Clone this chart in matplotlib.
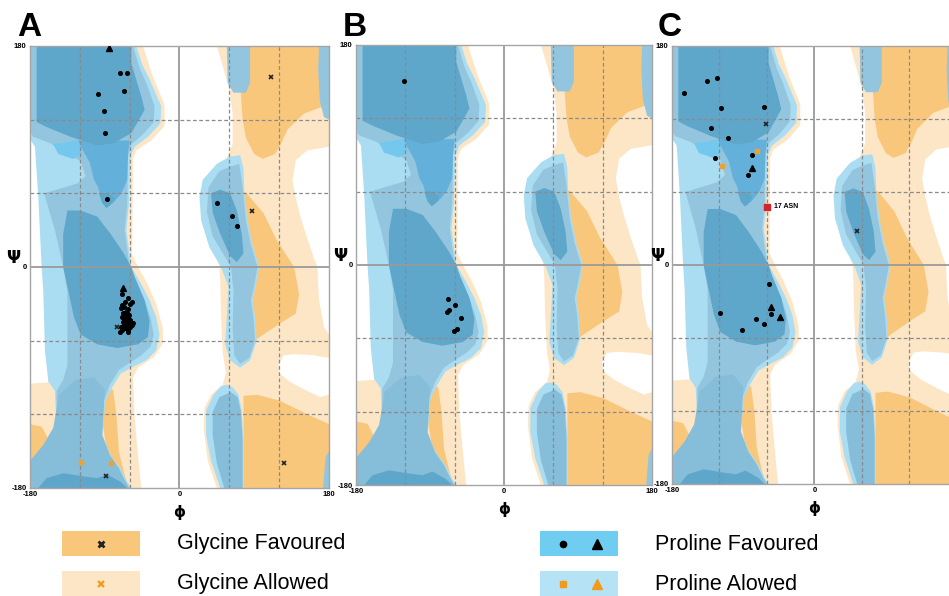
import matplotlib
matplotlib.use("Agg")
import matplotlib.pyplot as plt

plt.rcParams['font.family'] = ['Liberation Sans', 'DejaVu Sans']
plt.rcParams['axes.unicode_minus'] = False

# colours of the Ramachandran regions
LIGHT_OR = '#fde6c6'
ORANGE = '#f9c77c'
CYAN = '#aadcf2'
MED = '#93c6de'
MID = '#86bdd8'
BRIGHT = '#63b1da'
BRCYAN = '#74c8ee'
DARK = '#5ea6ca'
WHITE = '#ffffff'

# region outlines, (phi, psi) in degrees
left_light_orange = [(-180, 180), (-44, 180), (-32, 155), (-18, 132), (-18, 115), (-34, 103), (-52, 95),
                     (-56, 88), (-57, 10), (-50, 0), (-40, -12), (-28, -30), (-20, -50), (-20, -62),
                     (-30, -73), (-50, -82), (-56, -90), (-54, -123), (-50, -153), (-46, -180),
                     (-180, -180), (-180, -95), (-158, -94), (-140, 0), (-140, 100), (-180, 104)]
left_orange_strip = [(-92, -98), (-80, -100), (-76, -120), (-73, -150), (-66, -170), (-62, -178),
                     (-70, -178), (-85, -160), (-92, -130)]
left_orange_corner = [(-180, -128), (-166, -130), (-158, -140), (-166, -150), (-180, -160)]

right_light_orange = [(45, 180), (180, 180), (180, -180), (45, -180), (34, -158), (29, -131), (30, -115),
                      (38, -104), (52, -96), (56, -86), (52, -70), (50, -40), (49, -10), (48, 0),
                      (40, 20), (40, 60), (55, 85), (64, 100), (64, 125), (60, 145), (52, 164)]
white_hole_high = [(180, 98), (154, 95), (140, 87), (136, 71), (140, 56), (146, 40), (154, 23),
                   (162, 7), (166, 0), (168, -27), (174, -49), (180, -55)]
white_hole_low = [(180, -74), (162, -72), (138, -71), (125, -72), (119, -80), (121, -87), (134, -94),
                  (154, -101), (170, -106), (180, -104)]
right_orange_top = [(70, 180), (180, 180), (180, 131), (170, 130), (150, 125), (130, 112), (122, 100),
                    (115, 92), (100, 88), (90, 92), (80, 105), (76, 120), (74, 140), (72, 160)]
right_orange_mid = [(76, 62), (81, 60), (101, 44), (117, 22), (138, 0), (144, -22), (140, -38),
                    (121, -46), (101, -55), (86, -62), (82, -40), (80, 0), (78, 30)]
right_orange_bot = [(77, -105), (93, -104), (121, -109), (154, -120), (180, -128), (180, -180), (77, -180)]

left_envelope = [(-180, 180), (-52, 180), (-45, 165), (-36, 153), (-22, 131), (-23, 117), (-38, 106),
                 (-54, 98), (-59, 90), (-61, 50), (-64, 30), (-60, 10), (-58, 0), (-46, -14), (-36, -27),
                 (-28, -41), (-24, -55), (-28, -68), (-40, -76), (-58, -82), (-71, -87), (-81, -98),
                 (-89, -109), (-93, -137), (-83, -153), (-71, -164), (-63, -175), (-58, -180),
                 (-180, -180), (-180, -158), (-162, -145), (-148, -131), (-150, -101), (-158, -93),
                 (-162, -68), (-164, -20), (-166, 0), (-170, 57), (-174, 98), (-180, 104)]
left_medium = [(-180, 180), (-56, 180), (-48, 162), (-40, 150), (-30, 131), (-31, 118), (-44, 108),
               (-58, 100), (-62, 90), (-63, 50), (-66, 30), (-62, 10), (-60, 0), (-52, -14), (-42, -27),
               (-35, -41), (-31, -55), (-35, -65), (-46, -72), (-60, -78), (-73, -84), (-84, -96),
               (-91, -109), (-94, -137), (-85, -153), (-73, -164), (-65, -175), (-60, -180),
               (-180, -180), (-180, -158), (-162, -145), (-148, -131), (-148, -101), (-140, -92),
               (-135, -80), (-135, -20), (-140, 0), (-150, 30), (-163, 60), (-123, 68), (-113, 74),
               (-119, 86), (-156, 101), (-176, 106), (-180, 110)]
left_mid_low = [(-180, -180), (-180, -158), (-164, -145), (-152, -131), (-145, -104), (-125, -92),
                (-103, -90), (-90, -100), (-93, -137), (-84, -153), (-73, -164), (-65, -175), (-61, -180)]
left_bright_stem = [(-122, 103), (-60, 103), (-62, 92), (-63, 71), (-70, 60), (-80, 52), (-87, 49),
                    (-93, 53), (-98, 65), (-103, 71), (-108, 85), (-118, 97)]
left_stem_tip = [(-78, 56), (-84, 50), (-88, 48), (-93, 52), (-97, 60), (-86, 60)]
left_bright_cyan = [(-152, 100), (-122, 103), (-117, 93), (-128, 88), (-146, 92)]
left_dark_top = [(-172, 180), (-58, 180), (-58, 166), (-46, 139), (-42, 128), (-58, 109), (-79, 101),
                 (-99, 99), (-131, 106), (-160, 114), (-172, 118)]
left_dark_helix = [(-135, 46), (-119, 46), (-99, 41), (-83, 27), (-67, 11), (-58, 0), (-54, -8),
                   (-42, -27), (-36, -44), (-38, -57), (-50, -63), (-75, -66), (-99, -63), (-119, -55),
                   (-127, -41), (-135, -16), (-140, 0), (-140, 27), (-137, 38)]
left_dark_bottom = [(-170, -180), (-160, -172), (-140, -168), (-111, -171), (-99, -172), (-87, -169),
                    (-71, -175), (-63, -180)]

right_blob_outer = [(61, 90), (73, 91), (77, 80), (78, 60), (82, 38), (88, 18), (96, 0), (92, -15),
                    (88, -27), (91, -41), (93, -60), (85, -76), (73, -82), (61, -76), (55, -63),
                    (57, -41), (59, -16), (50, 0), (36, 16), (26, 38), (24, 57), (28, 71), (45, 84)]
right_blob_medium = [(62, 82), (72, 84), (76, 65), (80, 38), (86, 18), (94, 0), (90, -15), (86, -27),
                     (89, -41), (91, -60), (84, -74), (73, -79), (66, -72), (64, -50), (65, -20),
                     (62, 0), (55, 8), (40, 25), (33, 45), (35, 65), (48, 78)]
right_blob_dark = [(38, 60), (49, 63), (61, 60), (69, 46), (75, 27), (77, 11), (69, 4), (61, 9),
                   (49, 27), (40, 44)]
right_low_outer = [(57, -96), (64, -98), (71, -104), (75, -117), (77, -142), (77, -180), (49, -180),
                   (38, -158), (32, -137), (32, -117), (41, -104), (50, -97)]
right_low_medium = [(62, -102), (70, -106), (74, -118), (76, -142), (76, -180), (54, -180), (45, -160),
                    (40, -137), (40, -118), (48, -106)]
top_strip = [(57, 180), (85, 180), (85, 150), (80, 142), (65, 142), (58, 150)]
edge_strip_top = [(168, 180), (180, 180), (180, 120), (174, 122), (169, 135), (167, 160)]
edge_strip_bot = [(180, -150), (176, -155), (174, -170), (173, -180), (180, -180)]

layers = [
    (LIGHT_OR, left_light_orange), (ORANGE, left_orange_strip), (ORANGE, left_orange_corner),
    (LIGHT_OR, right_light_orange), (WHITE, white_hole_high), (WHITE, white_hole_low),
    (ORANGE, right_orange_top), (ORANGE, right_orange_mid), (ORANGE, right_orange_bot),
    (CYAN, left_envelope), (MED, left_medium), (MID, left_mid_low), (BRCYAN, left_bright_cyan),
    (BRIGHT, left_bright_stem), (DARK, left_stem_tip), (DARK, left_dark_top), (DARK, left_dark_helix),
    (DARK, left_dark_bottom),
    (CYAN, right_blob_outer), (MED, right_blob_medium), (DARK, right_blob_dark),
    (CYAN, right_low_outer), (MID, right_low_medium), (MED, top_strip),
    (MED, edge_strip_top), (MED, edge_strip_bot),
]

# residues, panel A
a_dots = [(-71.6, 157.8), (-62.8, 157.8), (-97.8, 141.2), (-66.8, 143.3), (-91.3, 126.8), (-89.3, 109.1),
          (-86.9, 55.6), (45.5, 52.4), (62.8, 41.5), (68.8, 33.1),
          (-68.8, -22.0), (-61.6, -25.5), (-57.6, -28.2), (-65.6, -28.2), (-69.6, -31.0), (-59.6, -30.1),
          (-70.4, -33.7), (-66.4, -32.9), (-62.4, -34.5), (-64.8, -36.4), (-67.6, -37.8), (-63.6, -37.8),
          (-60.8, -39.1), (-69.6, -40.5), (-65.6, -40.5), (-61.6, -41.8), (-66.4, -42.6), (-63.2, -43.7),
          (-59.6, -43.2), (-68.0, -44.5), (-64.8, -45.4), (-61.6, -45.9), (-70.4, -48.6), (-66.4, -47.3),
          (-63.6, -48.1), (-59.6, -48.6), (-65.6, -50.0), (-68.8, -51.3), (-62.4, -51.3), (-57.6, -47.3),
          (-55.6, -45.4), (-71.6, -52.7), (-61.6, -52.7)]
a_triangles = [(-85.3, 178.0), (-67.6, -17.4)]
a_gly_x = [(110.2, 154.8), (87.7, 45.4), (-75.7, -48.6), (-88.9, -170.0), (126.2, -159.9)]
a_allowed_sq = [(-118.6, -158.6), (-82.5, -159.9)]

# panel B
b_dots = [(-121.3, 150.8), (-67.7, -27.6), (-60.0, -32.5), (-67.3, -37.1), (-69.7, -38.7),
          (-51.9, -43.6), (-57.5, -52.6), (-61.2, -54.0)]

# panel C
c_dots = [(-164.5, 141.6), (-135.4, 151.2), (-123.2, 153.4), (-118.5, 129.0), (-64.2, 130.1),
          (-131.1, 112.6), (-109.3, 104.4), (-78.6, 90.7), (-126.1, 88.0), (-84.4, 74.2),
          (-57.1, -15.9), (-55.3, -40.3), (-73.5, -44.1), (-64.2, -48.7), (-119.4, -39.2), (-91.6, -53.2)]
c_triangles = [(-79.3, 79.7), (-54.6, -34.5), (-44.0, -42.7)]
c_gly_x = [(-61.6, 116.1), (54.1, 27.7)]
c_allowed_sq = [(-72.2, 93.7), (-116.8, 81.4)]
c_outlier = [(-59.6, 47.9)]
c_outlier_label = '17 ASN'

tick_values = [-180, 0, 180]
tick_labels = ['-180', '0', '180']

panels = {
    'A': dict(pos=[0.03161, 0.18121, 0.31507, 0.74161], dots=a_dots, tri=a_triangles, gx=a_gly_x,
              sq=a_allowed_sq, out=[], letter_x=17, ylab=-0.057, xt=tick_labels),
    'B': dict(pos=[0.37513, 0.18624, 0.31191, 0.73826], dots=b_dots, tri=[], gx=[], sq=[], out=[],
              letter_x=343, ylab=-0.052, xt=tick_labels),
    'C': dict(pos=[0.70811, 0.18792, 0.30032, 0.73490], dots=c_dots, tri=c_triangles, gx=c_gly_x,
              sq=c_allowed_sq, out=c_outlier, letter_x=658, ylab=-0.053, xt=['-180', '0', '']),
}

fig = plt.figure(figsize=(9.49, 5.96), dpi=100)
fig.patch.set_facecolor('white')


def plot_pts(ax, pts, **kw):
    if pts:
        xs, ys = zip(*pts)
        ax.plot(xs, ys, linestyle='none', zorder=4, **kw)


for name, p in panels.items():
    ax = fig.add_axes(p['pos'])
    for col, poly in layers:
        xs, ys = zip(*poly)
        ax.fill(xs, ys, color=col, lw=0, zorder=1)
    for v in (-120, -60, 60, 120):
        ax.axvline(v, color='#8a8a8a', lw=0.9, ls=(0, (3, 2)), zorder=2)
        ax.axhline(v, color='#8a8a8a', lw=0.9, ls=(0, (3, 2)), zorder=2)
    ax.axvline(0, color='#9a9a9a', lw=1.3, zorder=2)
    ax.axhline(0, color='#9a9a9a', lw=1.3, zorder=2)
    ax.set_xlim(-180, 180)
    ax.set_ylim(-180, 180)
    for s in ax.spines.values():
        s.set_color('#a5a5a5')
        s.set_linewidth(1.0)
    ax.set_xticks(tick_values, p['xt'])
    ax.set_yticks(tick_values, tick_labels)
    ax.tick_params(length=0, labelsize=5.5, pad=2.5)
    for lab in ax.get_xticklabels() + ax.get_yticklabels():
        lab.set_fontweight('bold')
    ax.set_ylabel('Ψ', rotation=0, fontsize=12, fontweight='bold', family=['DejaVu Sans'])
    ax.yaxis.set_label_coords(p['ylab'], 0.5)
    ax.set_xlabel('ϕ', fontsize=11, fontweight='bold', family=['DejaVu Sans'])
    ax.xaxis.set_label_coords(0.5, -0.038)

    plot_pts(ax, p['dots'], marker='o', ms=2.6, color='black')
    plot_pts(ax, p['tri'], marker='^', ms=4.5, color='black')
    plot_pts(ax, p['gx'], marker='x', ms=3.3, mew=1.2, color='#222222')
    plot_pts(ax, p['sq'], marker='s', ms=3.3, color='#f0a030')
    if p['out']:
        plot_pts(ax, p['out'], marker='s', ms=4.2, color='#d4242a')
        ax.annotate(c_outlier_label, p['out'][0], xytext=(5, 0), textcoords='offset points',
                    fontsize=5, fontweight='bold', va='center', zorder=5)

    fig.text(p['letter_x'] / 949, 1 - 36 / 596, name, fontsize=24, fontweight='bold',
             ha='left', va='baseline')

# legend at the bottom, in pixel units
leg = fig.add_axes([0, 0, 1, 1], zorder=-1)
leg.set_xlim(0, 949)
leg.set_ylim(596, 0)
leg.axis('off')

legend_labels = ['Glycine Favoured', 'Glycine Allowed', 'Proline Favoured', 'Proline Alowed']
legend_colors = [ORANGE, LIGHT_OR, '#6fcdf1', '#b6e2f6']
legend_box_x = [62, 62, 540, 540]
legend_box_y = [531, 571, 531, 571]
for lab, col, bx, by in zip(legend_labels, legend_colors, legend_box_x, legend_box_y):
    leg.add_patch(plt.Rectangle((bx, by), 78, 25, color=col, lw=0))
    leg.text(bx + 115, by + 13, lab, fontsize=15.5, va='center', ha='left')

leg.plot([101], [543.5], marker='x', ms=5, mew=2, color='#222222')
leg.plot([101], [583.5], marker='x', ms=5, mew=1.6, color='#f29a1c')
leg.plot([563], [543.5], marker='o', ms=4.5, color='black')
leg.plot([597], [543.5], marker='^', ms=7, color='black')
leg.plot([563], [583.5], marker='s', ms=5, color='#f29a1c')
leg.plot([597], [583.5], marker='^', ms=7, color='#f29a1c')

fig.savefig('out.png', dpi=100)
